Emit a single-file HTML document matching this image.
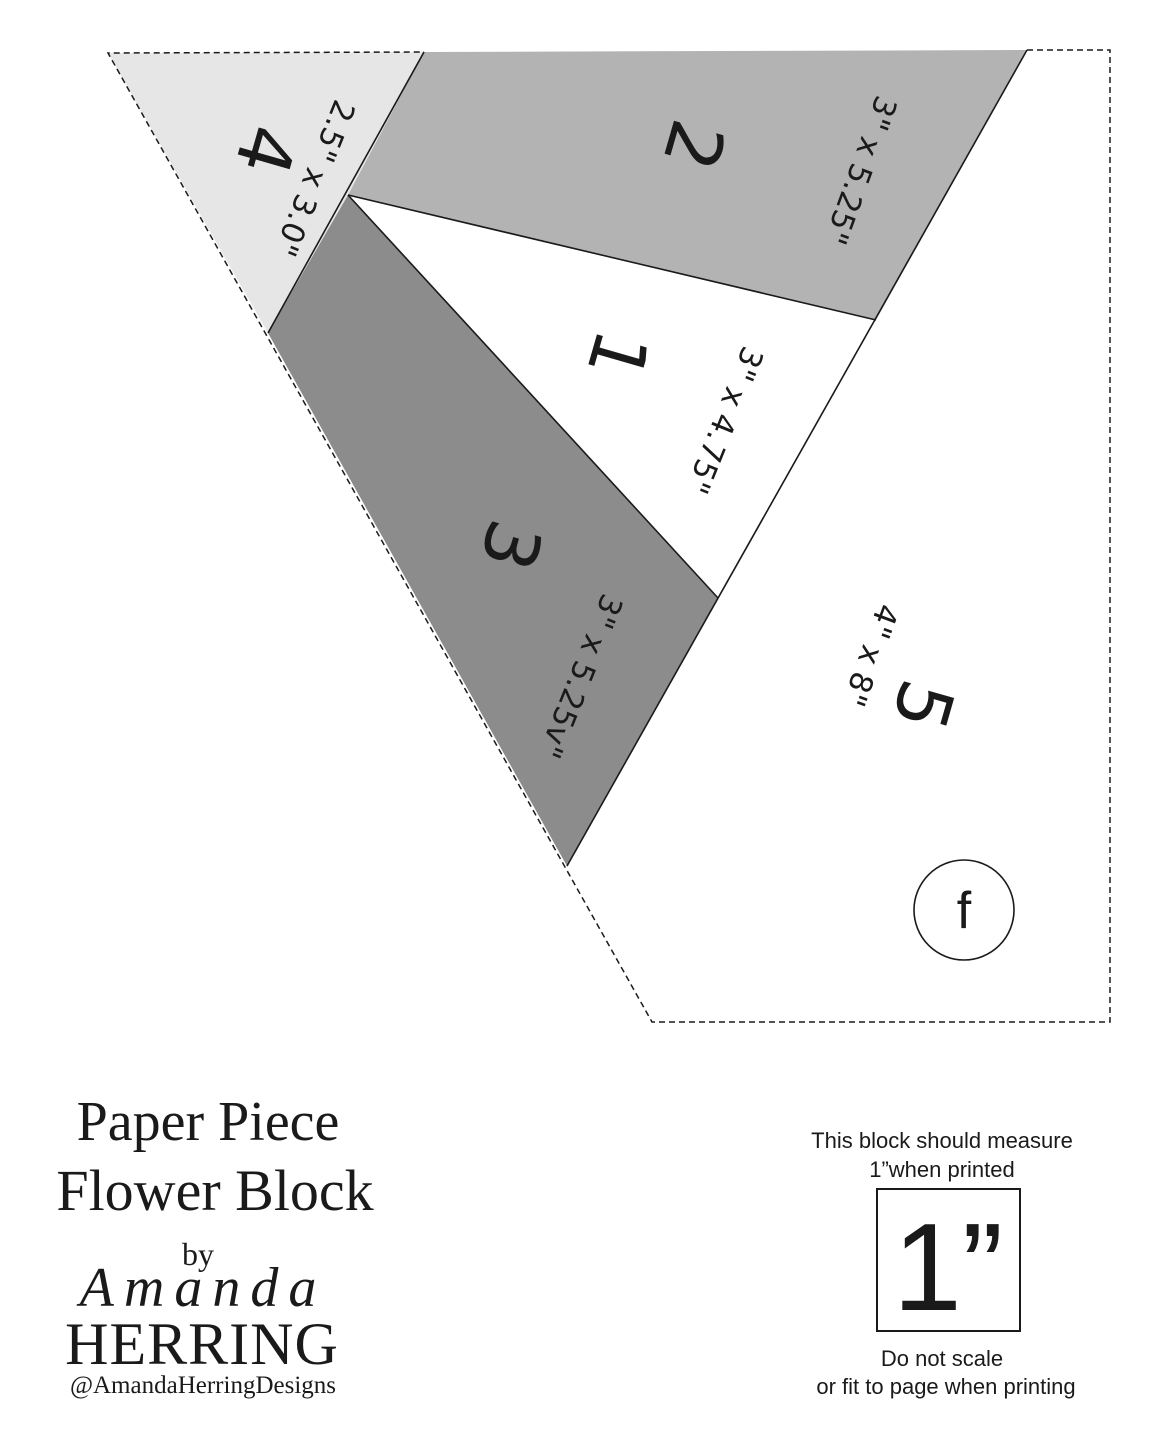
<!DOCTYPE html>
<html><head><meta charset="utf-8"><style>
html,body{margin:0;padding:0;background:#fff;}
svg{display:block;}
</style></head><body>
<svg width="1158" height="1432" viewBox="0 0 1158 1432" xmlns="http://www.w3.org/2000/svg">
<rect width="1158" height="1432" fill="#fff"/>
<g stroke="#1a1a1a" stroke-width="1.6" stroke-linejoin="round">
<polygon points="108,53 424,52 348,195 268,333" fill="#e6e6e6" stroke="none"/>
<polygon points="424,52 1027,50 876,320 348,195" fill="#b3b3b3" stroke="none"/>
<polygon points="348,195 718,598 567,866 268,333" fill="#8c8c8c" stroke="none"/>
<line x1="424" y1="52" x2="268" y2="333"/>
<line x1="348" y1="195" x2="876" y2="320"/>
<line x1="348" y1="195" x2="718" y2="598"/>
<line x1="1027" y1="50" x2="567" y2="866"/>
</g>
<polyline points="1027,50 1110,50 1110,1022 652,1022 108,53 424,52" fill="none" stroke="#1a1a1a" stroke-width="1.5" stroke-dasharray="6,4"/>
<g font-family="DejaVu Sans, sans-serif" fill="#1a1a1a" text-anchor="middle" dominant-baseline="central">
<text transform="translate(693,145) rotate(106)" font-size="74">2</text>
<text transform="translate(617,355) rotate(106)" font-size="74">1</text>
<text transform="translate(510,545) rotate(106)" font-size="74">3</text>
<text transform="translate(265,150) rotate(106)" font-size="74">4</text>
<text transform="translate(922,705) rotate(106)" font-size="74">5</text>
<text transform="translate(860,170) rotate(110)" font-size="31">3" x 5.25"</text>
<text transform="translate(314,178) rotate(112)" font-size="31">2.5" x 3.0"</text>
<text transform="translate(724,420) rotate(112)" font-size="31">3" x 4.75"</text>
<text transform="translate(580,676) rotate(112)" font-size="31">3" x 5.25v"</text>
<text transform="translate(870,655) rotate(110)" font-size="31">4" x 8"</text>
</g>
<circle cx="964" cy="910" r="50" fill="#fff" stroke="#1a1a1a" stroke-width="1.6"/>
<text x="964" y="928" font-family="Liberation Sans, sans-serif" font-size="52" text-anchor="middle" fill="#1a1a1a">f</text>
<g font-family="Liberation Sans, sans-serif" fill="#1a1a1a" text-anchor="middle" font-size="22">
<text x="942" y="1148">This block should measure</text>
<text x="942" y="1177">1”when printed</text>
<text x="942" y="1366">Do not scale</text>
<text x="946" y="1394">or fit to page when printing</text>
</g>
<rect x="877" y="1189" width="143" height="142" fill="none" stroke="#1a1a1a" stroke-width="2"/>
<text x="948" y="1310" font-family="Liberation Sans, sans-serif" font-size="124" text-anchor="middle" fill="#1a1a1a">1”</text>
<g font-family="Liberation Serif, serif" fill="#1a1a1a" text-anchor="middle">
<text x="208" y="1140" font-size="56">Paper Piece</text>
<text x="215" y="1210" font-size="58">Flower Block</text>
<text x="198" y="1265" font-size="32">by</text>
<text x="203" y="1306" font-size="56" font-style="italic" letter-spacing="10">Amanda</text>
<text x="202" y="1364" font-size="60" letter-spacing="1">HERRING</text>
<text x="203" y="1393" font-size="25">@AmandaHerringDesigns</text>
</g>
</svg>
</body></html>
